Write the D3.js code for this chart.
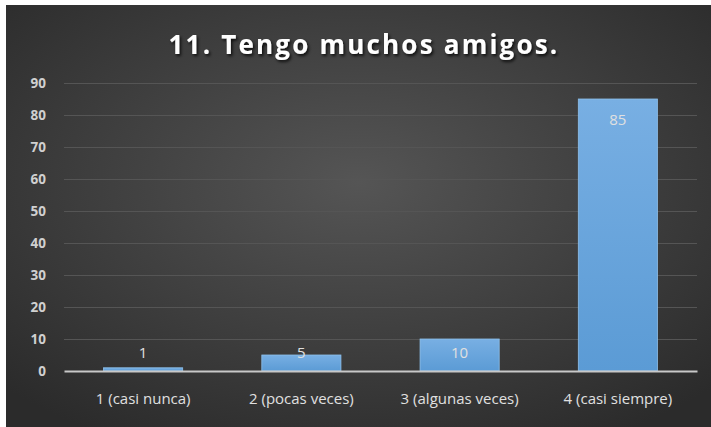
<!DOCTYPE html>
<html><head><meta charset="utf-8">
<script src="https://cdn.jsdelivr.net/npm/d3@7"></script>
<style>html,body{margin:0;padding:0;background:#fff;}svg{display:block;}</style>
</head><body>
<svg id="c" width="711" height="427"></svg>
<script>
const title = "11. Tengo muchos amigos.";
const categories = ["1 (casi nunca)", "2 (pocas veces)", "3 (algunas veces)", "4 (casi siempre)"];
const values = [1, 5, 10, 85];
const yTicks = [0, 10, 20, 30, 40, 50, 60, 70, 80, 90];

const svg = d3.select("#c");
const W = 711, H = 427;
const defs = svg.append("defs");
const rg = defs.append("radialGradient").attr("id","bg").attr("cx","50%").attr("cy","42%").attr("r","70%");
rg.append("stop").attr("offset","0%").attr("stop-color","#555555");
rg.append("stop").attr("offset","100%").attr("stop-color","#2b2b2b");
const bg = defs.append("linearGradient").attr("id","bar").attr("x1","0").attr("y1","0").attr("x2","0").attr("y2","1");
bg.append("stop").attr("offset","0%").attr("stop-color","#78afe3");
bg.append("stop").attr("offset","100%").attr("stop-color","#5b9bd5");
const f = defs.append("filter").attr("id","sh").attr("x","-10%").attr("y","-30%").attr("width","120%").attr("height","160%");
f.append("feDropShadow").attr("dx",1.5).attr("dy",2).attr("stdDeviation",1.5).attr("flood-color","#000").attr("flood-opacity",0.8);

svg.append("rect").attr("x",6).attr("y",5).attr("width",W-6).attr("height",H-5).attr("fill","url(#bg)");

const x = d3.scaleBand().domain(categories).range([64, 697]).paddingInner(0.5).paddingOuter(0.25);
const y = d3.scaleLinear().domain([0, 90]).range([371, 83]);

// gridlines
svg.append("g").attr("transform","translate(64,0)")
  .call(d3.axisLeft(y).tickValues(yTicks.filter(d=>d>0)).tickSize(-633).tickFormat(""))
  .call(g=>g.select(".domain").remove())
  .call(g=>g.selectAll("line").attr("stroke","#555555").attr("stroke-width",1));

// y labels
svg.append("g").attr("transform","translate(46,0)")
  .call(d3.axisLeft(y).tickValues(yTicks).tickSize(0).tickPadding(0))
  .call(g=>g.select(".domain").remove())
  .call(g=>g.selectAll("text").attr("fill","#d0d0d0").attr("font-family","'Open Sans',sans-serif")
     .attr("font-weight","bold").attr("font-size",13.5));

// bars
svg.append("g").selectAll("rect").data(values).join("rect")
  .attr("x",(d,i)=>x(categories[i])).attr("y",d=>y(d))
  .attr("width",x.bandwidth()).attr("height",d=>y(0)-y(d))
  .attr("fill","url(#bar)").attr("stroke","#8ec0ec").attr("stroke-width",0.8);

// baseline axis
svg.append("g").attr("transform","translate(0,371)")
  .call(d3.axisBottom(x).tickSize(0).tickPadding(22))
  .call(g=>g.select(".domain").attr("stroke","#c8c8c8").attr("stroke-width",2))
  .call(g=>g.selectAll("text").attr("fill","#e0e0e0").attr("font-family","'Liberation Sans Narrow','Open Sans',sans-serif")
     .attr("font-size",15));

// value labels
svg.append("g").selectAll("text").data(values).join("text")
  .attr("x",(d,i)=>x(categories[i])+x.bandwidth()/2)
  .attr("y",d=>Math.min(y(d)+20, 352))
  .attr("text-anchor","middle").attr("dominant-baseline","central")
  .attr("fill","#e0e0e0").attr("font-family","'Open Sans',sans-serif").attr("font-size",15)
  .text(d=>d);

// title
svg.append("text").attr("x",364).attr("y",44).attr("text-anchor","middle").attr("dominant-baseline","central")
  .attr("fill","#ffffff").attr("font-family","'Open Sans',sans-serif").attr("font-weight","bold")
  .attr("font-size",26).attr("letter-spacing",2.2).attr("filter","url(#sh)").text(title);
</script>
</body></html>
